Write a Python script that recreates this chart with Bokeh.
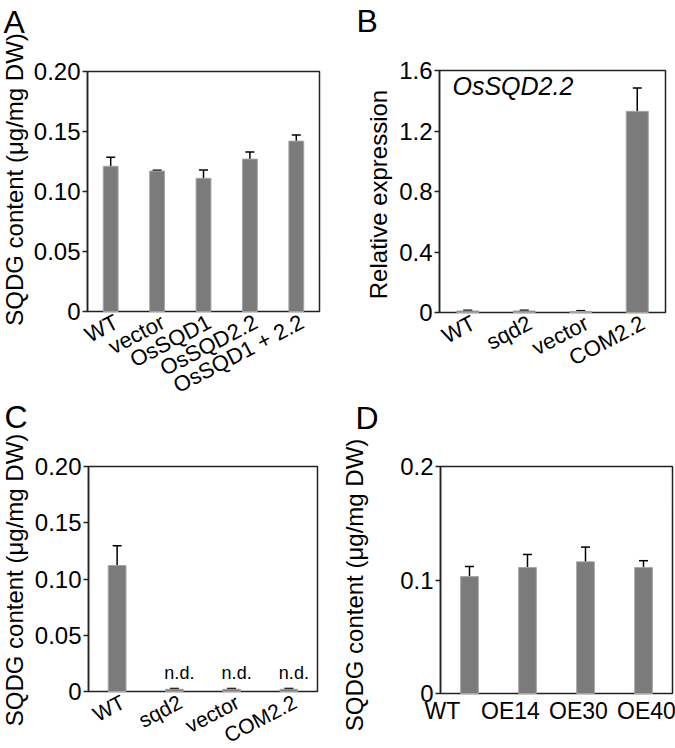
import math
from bokeh.plotting import figure
from bokeh.layouts import row, column
from bokeh.models import (ColumnDataSource, Whisker, TeeHead, Range1d, FixedTicker,
                          CustomJSTickFormatter)
from bokeh.embed import file_html
from bokeh.resources import INLINE
from bokeh.core.properties import value

FONT = "Liberation Sans"

# ---- Panel A ----
a_cats = ["WT", "vector", "OsSQD1", "OsSQD2.2", "OsSQD1 + 2.2"]
a_vals = [0.121, 0.117, 0.111, 0.127, 0.142]
a_errs = [0.0075, 0.0008, 0.007, 0.006, 0.005]
a_yticks = [0, 0.05, 0.10, 0.15, 0.20]
a_ylabels = ["0", "0.05", "0.10", "0.15", "0.20"]

# ---- Panel B ----
b_cats = ["WT", "sqd2", "vector", "COM2.2"]
b_vals = [0.010, 0.010, 0.007, 1.33]
b_errs = [0.005, 0.005, 0.005, 0.155]
b_yticks = [0, 0.4, 0.8, 1.2, 1.6]
b_ylabels = ["0", "0.4", "0.8", "1.2", "1.6"]
b_gene = "OsSQD2.2"

# ---- Panel C ----
c_cats = ["WT", "sqd2", "vector", "COM2.2"]
c_vals = [0.112, 0.002, 0.002, 0.002]
c_errs = [0.0175, 0.0007, 0.0007, 0.0007]
c_notes = ["", "n.d.", "n.d.", "n.d."]
c_yticks = [0, 0.05, 0.10, 0.15, 0.20]
c_ylabels = ["0", "0.05", "0.10", "0.15", "0.20"]

# ---- Panel D ----
d_cats = ["WT", "OE14", "OE30", "OE40"]
d_vals = [0.103, 0.111, 0.116, 0.111]
d_errs = [0.009, 0.0115, 0.013, 0.006]
d_yticks = [0, 0.1, 0.2]
d_ylabels = ["0", "0.1", "0.2"]

SQDG_LABEL = "SQDG content (\u03bcg/mg DW)"
EXPR_LABEL = "Relative expression"

LINE = "#222222"
BAR = "#7b7b7b"
ANG = 0.48       # rotation of slanted category labels (rad)


def label_formatter(ticks, labels):
    return CustomJSTickFormatter(
        args=dict(tv=list(ticks), labels=list(labels)),
        code="""
        let best = 0, bd = 1e9;
        for (let i = 0; i < tv.length; i++) {
            const d = Math.abs(tv[i] - tick);
            if (d < bd) { bd = d; best = i; }
        }
        return labels[best];
        """)


def make_panel(letter, cats, vals, errs, yticks, ylabels, ylabel, g):
    n = len(cats)
    xs = list(range(n))
    ymax = yticks[-1]
    W, H = g["W"], g["H"]
    L, Wb, T, Hb = g["L"], g["Wb"], g["T"], g["Hb"]
    R = W - L - Wb
    Bm = H - T - Hb
    # the frame fills the whole figure; the boxed plot area is drawn inside it
    x0 = -0.5 - L * n / Wb
    x1 = (n - 0.5) + R * n / Wb
    y0 = -Bm * ymax / Hb
    y1 = ymax + T * ymax / Hb
    p = figure(width=W, height=H, output_backend="svg", toolbar_location=None,
               x_range=Range1d(x0, x1), y_range=Range1d(y0, y1))
    p.min_border = 0
    p.min_border_left = 0
    p.min_border_right = 0
    p.min_border_top = 0
    p.min_border_bottom = 0
    p.title.visible = False
    p.background_fill_color = "white"
    p.border_fill_color = "white"
    p.outline_line_color = None
    p.xgrid.visible = False
    p.ygrid.visible = False
    p.xaxis.visible = False

    # box around the data area
    p.quad(left=[-0.5], right=[n - 0.5], bottom=[0], top=[ymax], fill_color=None,
           line_color=LINE, line_width=1.5)

    src = ColumnDataSource(dict(x=xs, top=vals,
                                upper=[v + e for v, e in zip(vals, errs)],
                                lower=[v - e for v, e in zip(vals, errs)]))
    p.vbar(x="x", top="top", width=g["bw"], source=src, fill_color=BAR,
           line_color="#a5a5a5", line_width=1)
    w = Whisker(source=src, base="x", upper="upper", lower="lower",
                line_color="black", line_width=1.5,
                upper_head=TeeHead(size=9, line_color="black", line_width=1.5),
                lower_head=TeeHead(size=9, line_color="black", line_width=1.5))
    p.add_layout(w)

    # y axis pinned to the left edge of the box
    ya = p.yaxis[0]
    ya.fixed_location = -0.5
    ya.bounds = (0, ymax)
    ya.ticker = FixedTicker(ticks=yticks)
    ya.formatter = label_formatter(yticks, ylabels)
    ya.major_label_text_font = FONT
    ya.major_label_text_font_size = "24px"
    ya.major_label_text_color = "black"
    ya.major_label_standoff = g["tls"]
    ya.major_tick_out = 5
    ya.major_tick_in = 0
    ya.major_tick_line_color = LINE
    ya.major_tick_line_width = 1.5
    ya.minor_tick_line_color = None
    ya.axis_line_color = LINE
    ya.axis_line_width = 1.5

    # y-axis title
    p.text(x=[-0.5], y=[ymax / 2], text=[ylabel], angle=math.pi / 2,
           text_font=value(FONT), text_font_size="24px", text_color="black",
           text_align="center", text_baseline="alphabetic",
           x_offset=g["yl_dx"], y_offset=g["yl_dy"])

    # category labels
    if g["slanted"]:
        p.text(x=xs, y=[0] * n, text=cats, angle=ANG, text_font=value(FONT),
               text_font_size=g["xfont"], text_color="black", text_align="right",
               text_baseline="middle", x_offset=6, y_offset=g["xl_dy"])
    else:
        spread = g["spread"]
        lab = ColumnDataSource(dict(x=xs, y=[0] * n, text=cats,
                                    dx=[g["xl_dx"] + spread * i for i in xs]))
        p.text(x="x", y="y", text="text", source=lab, text_font=value(FONT),
               text_font_size=g["xfont"], text_color="black", text_align="center",
               text_baseline="top", x_offset="dx", y_offset=g["xl_dy"])

    # panel letter
    p.text(x=[-0.5], y=[ymax], text=[letter], text_font=value(FONT),
           text_font_size="32px", text_color="black", text_align="left",
           text_baseline="alphabetic", x_offset=g["let_dx"], y_offset=g["let_dy"])
    return p


gA = dict(W=339, H=398, L=87, Wb=232, T=71, Hb=240, slanted=True, bw=0.32, xfont="22px",
          xl_dy=9, tls=2, yl_dx=-73, yl_dy=-12, let_dx=-84, let_dy=-50)
gB = dict(W=336, H=398, L=100, Wb=226, T=70, Hb=242, slanted=True, bw=0.39, xfont="22px",
          xl_dy=9, tls=2, yl_dx=-61, yl_dy=3, let_dx=-83, let_dy=-50)
gC = dict(W=339, H=350, L=88, Wb=229, T=68, Hb=225, slanted=True, bw=0.31, xfont="21px",
          xl_dy=9, tls=2, yl_dx=-74, yl_dy=1, let_dx=-84, let_dy=-50)
gD = dict(W=336, H=350, L=101, Wb=232, T=68, Hb=227, slanted=False, bw=0.305,
          xfont="23px", xl_dx=-27, spread=10, xl_dy=4, tls=2, yl_dx=-86, yl_dy=5,
          let_dx=-85, let_dy=-49)

pA = make_panel("A", a_cats, a_vals, a_errs, a_yticks, a_ylabels, SQDG_LABEL, gA)
pB = make_panel("B", b_cats, b_vals, b_errs, b_yticks, b_ylabels, EXPR_LABEL, gB)
pB.text(x=[-0.5], y=[b_yticks[-1]], text=[b_gene], text_font=value(FONT),
        text_font_size="25px", text_font_style="italic", text_color="black",
        text_align="left", text_baseline="alphabetic", x_offset=13, y_offset=15)
pC = make_panel("C", c_cats, c_vals, c_errs, c_yticks, c_ylabels, SQDG_LABEL, gC)
pC.text(x=list(range(len(c_cats))), y=c_vals, text=c_notes, text_font=value(FONT),
        text_font_size="18px", text_color="black", text_align="center",
        text_baseline="alphabetic", x_offset=5, y_offset=-16)
pD = make_panel("D", d_cats, d_vals, d_errs, d_yticks, d_ylabels, SQDG_LABEL, gD)

layout = column(row(pA, pB), row(pC, pD))
open("out.html", "w").write(file_html(layout, INLINE))
